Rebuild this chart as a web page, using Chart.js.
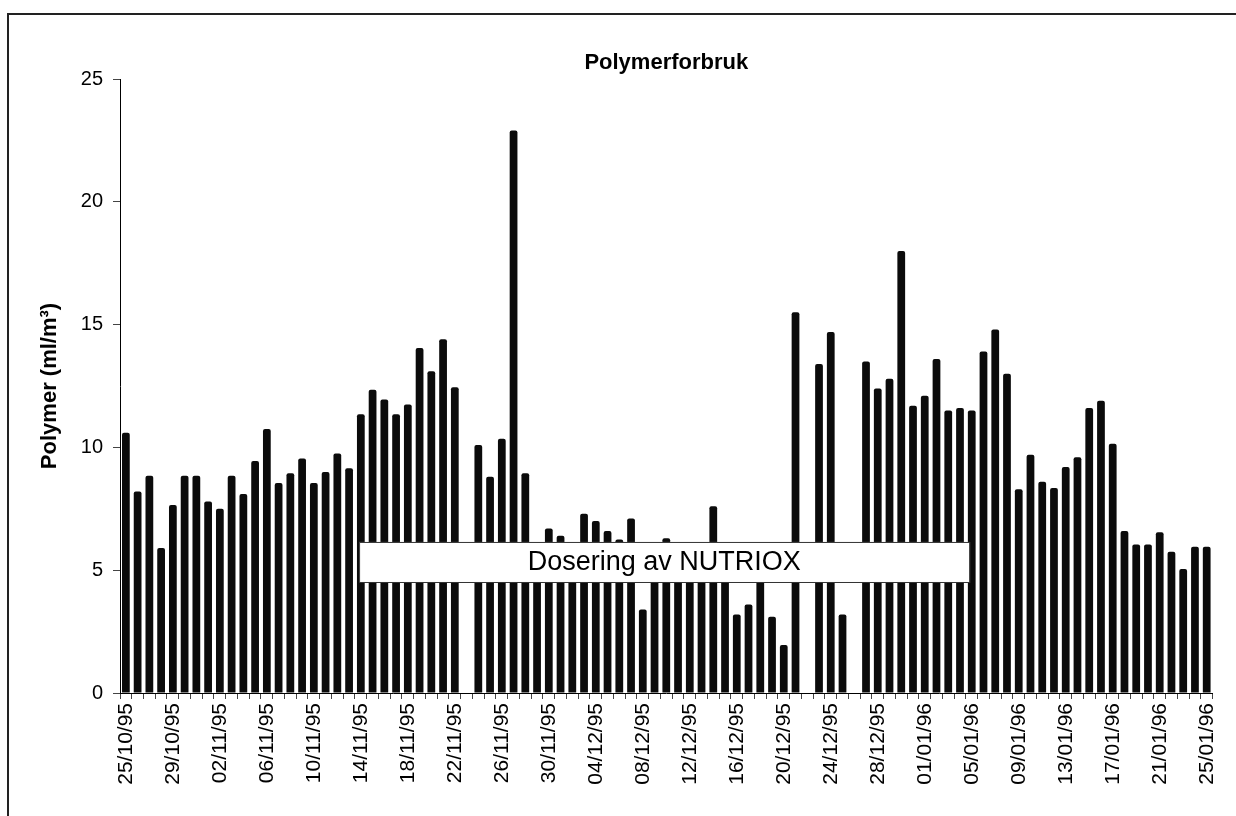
<!DOCTYPE html>
<html>
<head>
<meta charset="utf-8">
<script src="https://cdn.jsdelivr.net/npm/chart.js@4.4.1/dist/chart.umd.min.js"></script>
<style>
  html, body { margin: 0; padding: 0; background: #fff; }
  #wrap { width: 1236px; height: 816px; }
</style>
</head>
<body>
<div id="wrap"><canvas id="chart" width="1236" height="816"></canvas></div>
<script>
const days = [
  '25/10/95','26/10/95','27/10/95','28/10/95','29/10/95','30/10/95','31/10/95',
  '01/11/95','02/11/95','03/11/95','04/11/95','05/11/95','06/11/95','07/11/95','08/11/95','09/11/95','10/11/95',
  '11/11/95','12/11/95','13/11/95','14/11/95','15/11/95','16/11/95','17/11/95','18/11/95','19/11/95','20/11/95',
  '21/11/95','22/11/95','23/11/95','24/11/95','25/11/95','26/11/95','27/11/95','28/11/95','29/11/95','30/11/95',
  '01/12/95','02/12/95','03/12/95','04/12/95','05/12/95','06/12/95','07/12/95','08/12/95','09/12/95','10/12/95',
  '11/12/95','12/12/95','13/12/95','14/12/95','15/12/95','16/12/95','17/12/95','18/12/95','19/12/95','20/12/95',
  '21/12/95','22/12/95','23/12/95','24/12/95','25/12/95','26/12/95','27/12/95','28/12/95','29/12/95','30/12/95',
  '31/12/95','01/01/96','02/01/96','03/01/96','04/01/96','05/01/96','06/01/96','07/01/96','08/01/96','09/01/96',
  '10/01/96','11/01/96','12/01/96','13/01/96','14/01/96','15/01/96','16/01/96','17/01/96','18/01/96','19/01/96',
  '20/01/96','21/01/96','22/01/96','23/01/96','24/01/96','25/01/96'
];

// ml/m3 per day, null = no reading
const polymer = [
  10.6, 8.2, 8.85, 5.9, 7.65, 8.85, 8.85,
  7.8, 7.5, 8.85, 8.1, 9.45, 10.75, 8.55, 8.95, 9.55, 8.55,
  9.0, 9.75, 9.15, 11.35, 12.35, 11.95, 11.35, 11.75, 14.05, 13.1,
  14.4, 12.45, null, 10.1, 8.8, 10.35, 22.9, 8.95, 5.9, 6.7,
  6.4, 6.0, 7.3, 7.0, 6.6, 6.25, 7.1, 3.4, 5.6, 6.3,
  5.8, 6.0, 5.7, 7.6, 5.9, 3.2, 3.6, 5.5, 3.1, 1.95,
  15.5, null, 13.4, 14.7, 3.2, null, 13.5, 12.4, 12.8, 18.0,
  11.7, 12.1, 13.6, 11.5, 11.6, 11.5, 13.9, 14.8, 13.0, 8.3,
  9.7, 8.6, 8.35, 9.2, 9.6, 11.6, 11.9, 10.15, 6.6, 6.05,
  6.05, 6.55, 5.75, 5.05, 5.95, 5.95
];

const yTicks = [0, 5, 10, 15, 20, 25];
const labelEvery = 4;

// annotation box, in category index / value units
const noteText = 'Dosering av NUTRIOX';
const noteFrom = 19.85, noteTo = 71.8;
const noteLow = 4.52, noteHigh = 6.15;

const FONT = "Arial, 'Liberation Sans', sans-serif";

const extras = {
  id: 'extras',
  beforeDraw(chart) {
    const ctx = chart.ctx;
    ctx.save();
    ctx.strokeStyle = '#222';
    ctx.lineWidth = 2;
    ctx.beginPath();
    ctx.moveTo(8, 820);
    ctx.lineTo(8, 14);
    ctx.lineTo(1240, 14);
    ctx.stroke();
    ctx.restore();
  },
  afterDatasetsDraw(chart) {
    const { ctx, chartArea, scales: { x, y } } = chart;
    ctx.save();
    const x1 = x.getPixelForValue(noteFrom);
    const x2 = x.getPixelForValue(noteTo);
    const y1 = y.getPixelForValue(noteHigh);
    const y2 = y.getPixelForValue(noteLow);
    ctx.fillStyle = '#fff';
    ctx.fillRect(x1, y1, x2 - x1, y2 - y1);
    ctx.strokeStyle = '#333';
    ctx.lineWidth = 1;
    ctx.strokeRect(x1 + 0.5, y1 + 0.5, x2 - x1, y2 - y1);
    ctx.fillStyle = '#000';
    ctx.font = '27px ' + FONT;
    ctx.textAlign = 'center';
    ctx.textBaseline = 'middle';
    ctx.fillText(noteText, (x1 + x2) / 2, (y1 + y2) / 2 + 1);

    ctx.font = 'bold 22px ' + FONT;
    ctx.fillText('Polymerforbruk', (chartArea.left + chartArea.right) / 2, 63);
    ctx.restore();
  }
};

new Chart(document.getElementById('chart'), {
  type: 'bar',
  data: {
    labels: days,
    datasets: [{
      label: 'Polymer',
      data: polymer,
      backgroundColor: '#0b0b0b',
      borderWidth: 0,
      borderRadius: { topLeft: 2, topRight: 2 },
      barPercentage: 0.66,
      categoryPercentage: 1.0
    }]
  },
  options: {
    responsive: false,
    animation: false,
    layout: { padding: { top: 79, left: 8, right: 18, bottom: 0 } },
    plugins: {
      legend: { display: false },
      title: { display: false },
      tooltip: { enabled: false }
    },
    scales: {
      x: {
        offset: true,
        grid: { offset: true, drawOnChartArea: false, tickLength: 6, color: '#444' },
        border: { color: '#000', width: 1 },
        ticks: {
          autoSkip: false,
          minRotation: 90,
          maxRotation: 90,
          padding: 4,
          color: '#000',
          font: { family: FONT, size: 21 },
          callback: (v, i) => (i % labelEvery === 0 ? days[i] : '')
        },
        afterFit: (scale) => { scale.height = 123; }
      },
      y: {
        min: 0,
        max: 25,
        afterBuildTicks: (scale) => { scale.ticks = yTicks.map(v => ({ value: v })); },
        grid: { drawOnChartArea: false, tickLength: 7, color: '#444' },
        border: { color: '#000', width: 1 },
        ticks: {
          padding: 10,
          color: '#000',
          font: { family: FONT, size: 20 }
        },
        title: {
          display: true,
          text: 'Polymer (ml/m³)',
          color: '#000',
          font: { family: FONT, size: 22, weight: 'bold' },
          padding: { top: 29, bottom: 0 }
        },
        afterFit: (scale) => { scale.width = 112; }
      }
    }
  },
  plugins: [extras]
});
</script>
</body>
</html>
